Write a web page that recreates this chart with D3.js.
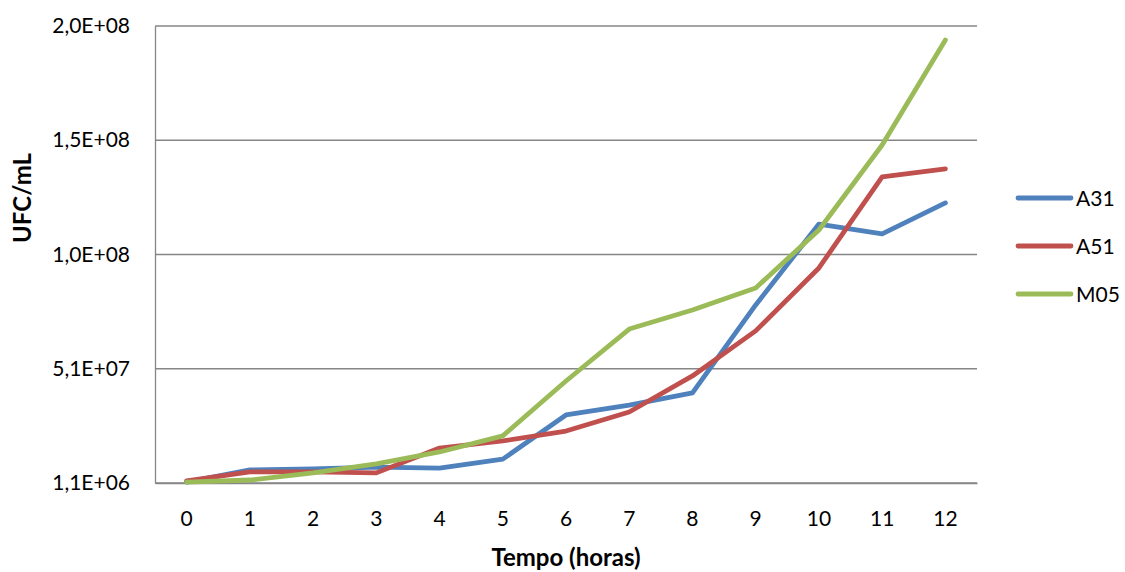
<!DOCTYPE html>
<html>
<head>
<meta charset="utf-8">
<script src="https://cdn.jsdelivr.net/npm/d3@7"></script>
<style>
  html, body { margin: 0; padding: 0; background: #fff; }
  svg text { font-family: Lato, "Open Sans", sans-serif; fill: #000; }
</style>
</head>
<body>
<svg id="chart" width="1125" height="572"></svg>
<script>
const hours = [0, 1, 2, 3, 4, 5, 6, 7, 8, 9, 10, 11, 12];
const seriesNames = ["A31", "A51", "M05"];
const a31 = [1.5e6, 6.8e6, 7.2e6, 8.0e6, 7.6e6, 11.5e6, 30.7e6, 35.0e6, 40.3e6, 78.6e6, 113.8e6, 109.5e6, 123.0e6];
const a51 = [2.0e6, 5.9e6, 5.9e6, 5.5e6, 16.3e6, 19.4e6, 23.7e6, 32.0e6, 47.7e6, 67.3e6, 94.7e6, 134.3e6, 137.8e6];
const m05 = [1.5e6, 2.4e6, 5.5e6, 9.4e6, 14.6e6, 21.6e6, 45.5e6, 68.1e6, 76.4e6, 86.0e6, 111.2e6, 148.2e6, 193.9e6];
const yMin = 1.1e6, yMax = 2.0e8;
const yTickLabels = ["1,1E+06", "5,1E+07", "1,0E+08", "1,5E+08", "2,0E+08"];
const colors = ["#4F81BD", "#C0504D", "#9BBB59"];

const svg = d3.select("#chart");
const mLeft = 155, mRight = 977, mTop = 26, mBottom = 483;

const x = d3.scaleBand().domain(hours).range([mLeft, mRight]);
const y = d3.scaleLinear().domain([yMin, yMax]).range([mBottom, mTop]);
const yTicks = yTickLabels.map((_, i) => yMin + i * (yMax - yMin) / (yTickLabels.length - 1));

// gridlines
svg.append("g").selectAll("line").data(yTicks).join("line")
  .attr("x1", mLeft).attr("x2", mRight)
  .attr("y1", d => y(d)).attr("y2", d => y(d))
  .attr("stroke", "#868686").attr("stroke-width", 1.3);

// y axis
const yAxis = d3.axisLeft(y).tickValues(yTicks).tickSize(0).tickPadding(25)
  .tickFormat((d, i) => yTickLabels[i]);
const gy = svg.append("g").attr("transform", `translate(${mLeft},0)`).call(yAxis);
gy.select(".domain").attr("stroke", "#868686").attr("stroke-width", 1.3);
gy.selectAll("text").style("font-size", "21px").style("font-family", "Lato, sans-serif");

// x axis
const xAxis = d3.axisBottom(x).tickSize(0).tickPadding(28);
const gx = svg.append("g").attr("transform", `translate(0,${mBottom})`).call(xAxis);
gx.select(".domain").attr("stroke", "#868686").attr("stroke-width", 1.3);
gx.selectAll("text").style("font-size", "21px").style("font-family", "Lato, sans-serif");

// lines
const data = [a31, a51, m05];
const line = d3.line().x((d, i) => x(hours[i]) + x.bandwidth() / 2).y(d => y(d));
svg.append("g").selectAll("path").data(data).join("path")
  .attr("d", d => line(d))
  .attr("fill", "none")
  .attr("stroke", (d, i) => colors[i])
  .attr("stroke-width", 4.8)
  .attr("stroke-linejoin", "round")
  .attr("stroke-linecap", "round");

// axis titles
svg.append("text")
  .attr("transform", `translate(31,198) rotate(-90)`)
  .attr("text-anchor", "middle")
  .style("font-size", "24px").style("font-weight", "bold")
  .text("UFC/mL");
svg.append("text")
  .attr("x", 566).attr("y", 566)
  .attr("text-anchor", "middle")
  .style("font-size", "24px").style("font-weight", "bold")
  .text("Tempo (horas)");

// legend
const legY = d3.scalePoint().domain(seriesNames).range([198, 294]);
const leg = svg.append("g").selectAll("g").data(seriesNames).join("g")
  .attr("transform", d => `translate(1018,${legY(d)})`);
leg.append("line").attr("x1", 0).attr("x2", 53).attr("y1", 0).attr("y2", 0)
  .attr("stroke", (d, i) => colors[i]).attr("stroke-width", 4.8).attr("stroke-linecap", "round");
leg.append("text").attr("x", 58).attr("y", 0).attr("dy", "0.36em")
  .style("font-size", "21px").text(d => d);
</script>
</body>
</html>
